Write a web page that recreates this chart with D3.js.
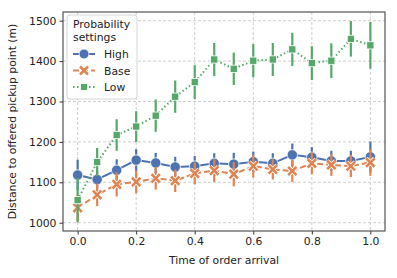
<!DOCTYPE html>
<html>
<head>
<meta charset="utf-8">
<script src="https://cdn.jsdelivr.net/npm/d3@7"></script>
<style>
  body { margin: 0; background: #fff; }
  text { font-family: "DejaVu Sans", sans-serif; fill: #222; }
</style>
</head>
<body>
<svg id="chart" width="397" height="278"></svg>
<script>
// time of order arrival (16 steps)
const times = d3.range(16).map(i => i / 15);
const highVals = [1118, 1107, 1130, 1155, 1148, 1138, 1140, 1147, 1145, 1151, 1147, 1168, 1162, 1153, 1153, 1163];
const highErr  = [38, 22, 27, 27, 25, 25, 25, 25, 28, 25, 25, 28, 25, 25, 25, 38];
const baseVals = [1037, 1069, 1095, 1101, 1110, 1104, 1122, 1129, 1120, 1140, 1132, 1128, 1147, 1143, 1140, 1149];
const baseErr  = [33, 28, 30, 28, 28, 28, 27, 28, 30, 28, 25, 27, 27, 27, 27, 33];
const lowVals  = [1056, 1150, 1217, 1238, 1265, 1312, 1348, 1404, 1381, 1401, 1404, 1429, 1395, 1401, 1455, 1439];
const lowErr   = [55, 35, 39, 38, 40, 40, 42, 41, 40, 41, 41, 41, 42, 43, 44, 58];
const xTicks = [0, 0.2, 0.4, 0.6, 0.8, 1.0];
const yTicks = [1000, 1100, 1200, 1300, 1400, 1500];

const series = [
  {name: 'High', vals: highVals, err: highErr, color: '#4c72b0', dash: null, marker: 'circle'},
  {name: 'Base', vals: baseVals, err: baseErr, color: '#dd8452', dash: '6,3', marker: 'x'},
  {name: 'Low',  vals: lowVals,  err: lowErr,  color: '#55a868', dash: '1.5,2.5', marker: 'square'}
];

const svg = d3.select('#chart');
const m = {l: 63, r: 12, t: 12, b: 47};
const W = 397, H = 278;
const x = d3.scaleLinear().domain([-0.05, 1.05]).range([m.l, W - m.r]);
const y = d3.scaleLinear().domain([979.5, 1521.5]).range([H - m.b, m.t]);

// grid
const grid = svg.append('g');
grid.selectAll('.gx').data(xTicks).enter().append('line')
  .attr('x1', d => x(d)).attr('x2', d => x(d)).attr('y1', m.t).attr('y2', H - m.b)
  .attr('stroke', '#c8c8c8').attr('stroke-dasharray', '3,2').attr('stroke-width', 0.9);
grid.selectAll('.gy').data(yTicks).enter().append('line')
  .attr('x1', m.l).attr('x2', W - m.r).attr('y1', d => y(d)).attr('y2', d => y(d))
  .attr('stroke', '#c8c8c8').attr('stroke-dasharray', '3,2').attr('stroke-width', 0.9);

// axes
const xAxis = svg.append('g').attr('transform', `translate(0,${H - m.b})`)
  .call(d3.axisBottom(x).tickValues(xTicks).tickFormat(d3.format('.1f')).tickSize(3.5).tickPadding(3));
const yAxis = svg.append('g').attr('transform', `translate(${m.l},0)`)
  .call(d3.axisLeft(y).tickValues(yTicks).tickFormat(d3.format('d')).tickSize(3.5).tickPadding(3));
[xAxis, yAxis].forEach(a => {
  a.select('.domain').remove();
  a.selectAll('.tick line').attr('stroke', '#333');
  a.selectAll('.tick text').attr('font-size', 10.8).attr('fill', '#222')
    .attr('font-family', '"DejaVu Sans", sans-serif');
});

svg.append('rect').attr('x', m.l).attr('y', m.t)
  .attr('width', W - m.r - m.l).attr('height', H - m.b - m.t)
  .attr('fill', 'none').attr('stroke', '#444').attr('stroke-width', 1.1);

function drawMarker(g, type, cx, cy, color, s) {
  if (type === 'circle') {
    g.append('circle').attr('cx', cx).attr('cy', cy).attr('r', 5.2 * s)
      .attr('fill', color).attr('stroke', '#fff').attr('stroke-width', 0.8);
  } else if (type === 'square') {
    const h = 3.6 * s;
    g.append('rect').attr('x', cx - h).attr('y', cy - h).attr('width', 2 * h).attr('height', 2 * h)
      .attr('fill', color).attr('stroke', '#fff').attr('stroke-width', 0.8);
  } else {
    const h = 4.2 * s;
    g.append('path').attr('d', `M${cx - h},${cy - h}L${cx + h},${cy + h}M${cx - h},${cy + h}L${cx + h},${cy - h}`)
      .attr('stroke', '#fff').attr('stroke-width', 4.2).attr('stroke-linecap', 'butt');
    g.append('path').attr('d', `M${cx - h},${cy - h}L${cx + h},${cy + h}M${cx - h},${cy + h}L${cx + h},${cy - h}`)
      .attr('stroke', color).attr('stroke-width', 2.6).attr('stroke-linecap', 'butt');
  }
}

const line = d3.line().x((d, i) => x(times[i])).y(d => y(d));
const plot = svg.append('g');
series.forEach(s => {
  const g = plot.append('g');
  g.append('path').attr('d', line(s.vals)).attr('fill', 'none')
    .attr('stroke', s.color).attr('stroke-width', 2)
    .attr('stroke-dasharray', s.dash);
  s.vals.forEach((v, i) => {
    g.append('line').attr('x1', x(times[i])).attr('x2', x(times[i]))
      .attr('y1', y(v - s.err[i])).attr('y2', y(v + s.err[i]))
      .attr('stroke', s.color).attr('stroke-width', 2.2);
  });
  s.vals.forEach((v, i) => drawMarker(g, s.marker, x(times[i]), y(v), s.color, 1));
});

// legend
const lg = svg.append('g').attr('transform', 'translate(67,15)');
lg.append('rect').attr('width', 70).attr('height', 84).attr('rx', 3)
  .attr('fill', '#fff').attr('fill-opacity', 0.85).attr('stroke', '#ccc').attr('stroke-width', 0.8);
lg.append('text').attr('x', 6).attr('y', 13).attr('font-size', 10.8).text('Probability');
lg.append('text').attr('x', 6).attr('y', 26).attr('font-size', 10.8).text('settings');
series.forEach((s, i) => {
  const yy = 39 + i * 16.5;
  lg.append('line').attr('x1', 6).attr('x2', 28).attr('y1', yy).attr('y2', yy)
    .attr('stroke', s.color).attr('stroke-width', 2).attr('stroke-dasharray', s.dash);
  drawMarker(lg, s.marker, 17, yy, s.color, 0.95);
  lg.append('text').attr('x', 37).attr('y', yy + 4).attr('font-size', 10.8).text(s.name);
});

// axis labels
svg.append('text').attr('x', (m.l + W - m.r) / 2).attr('y', 264).attr('text-anchor', 'middle')
  .attr('font-size', 10.8).text('Time of order arrival');
svg.append('text').attr('transform', `translate(16,${(m.t + H - m.b) / 2}) rotate(-90)`)
  .attr('text-anchor', 'middle').attr('font-size', 10.8).text('Distance to offered pickup point (m)');
</script>
</body>
</html>
